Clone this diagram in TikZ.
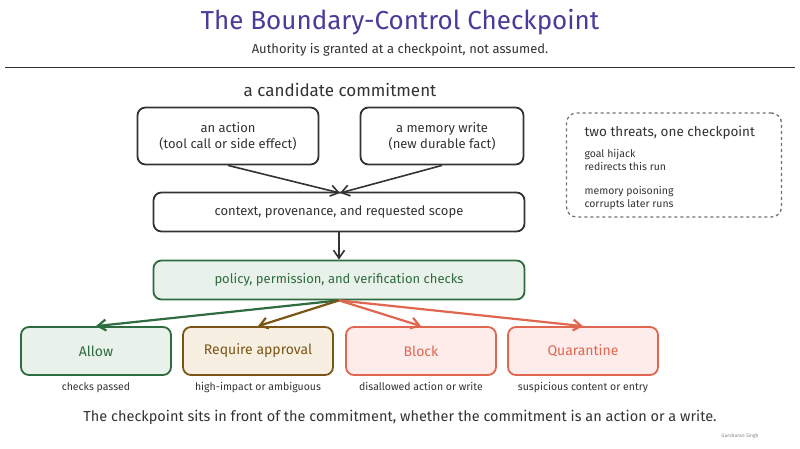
\documentclass[tikz,border=0pt]{standalone}
\usepackage{fontspec}
\setmainfont{Fira Sans}
\usetikzlibrary{positioning,arrows.meta}
\definecolor{ttl}{HTML}{4B3A9A}
\definecolor{ink}{HTML}{333333}
\definecolor{okgreen}{HTML}{2E6B3E}
\definecolor{okfill}{HTML}{E9F1EB}
\definecolor{appbrown}{HTML}{7A5516}
\definecolor{appfill}{HTML}{F7F0E2}
\definecolor{badred}{HTML}{E0664F}
\definecolor{badfill}{HTML}{FDECEA}
\tikzset{
  box/.style={draw=ink,rounded corners=8pt,line width=1.8pt,align=center,font=\fontsize{13}{16}\selectfont,text=ink},
  verdict/.style={box,minimum width=150pt,minimum height=48pt,font=\fontsize{14}{16}\selectfont},
  note/.style={font=\fontsize{10.5}{13}\selectfont,text=ink},
  flow/.style={-{Straight Barb[length=8pt,width=11pt]},line width=1.6pt},
}
\begin{document}
\begin{tikzpicture}[x=1pt,y=-1pt]
    \useasboundingbox (0,0) rectangle (800,448);
    % heading
    \node (title) [text=ttl,font=\fontsize{26}{30}\selectfont] at (400,22) {The Boundary-Control Checkpoint};
    \node (sub) [text=ink,font=\fontsize{13}{15}\selectfont] at (400,50) {Authority is granted at a checkpoint, not assumed.};
    \draw [ink,line width=1pt] (5,67) -- (795,67);
    \node (cand) [text=ink,font=\fontsize{17}{20}\selectfont] at (340,90) {a candidate commitment};
    % inputs
    \node (act) [box,minimum width=181pt,minimum height=57pt] at (228,136) {an action\\(tool call or side effect)};
    \node (mem) [box,minimum width=163pt,minimum height=57pt] at (442,136) {a memory write\\(new durable fact)};
    \node (ctx) [box,minimum width=371pt,minimum height=39pt] at (339,212) {context, provenance, and requested scope};
    \node (pol) [box,draw=okgreen,fill=okfill,text=okgreen,minimum width=371pt,minimum height=39pt] at (339,280) {policy, permission, and verification checks};
    % verdicts
    \node (allow) [verdict,draw=okgreen,fill=okfill,text=okgreen] at (96,351) {Allow};
    \node (appr) [verdict,draw=appbrown,fill=appfill,text=appbrown] at (258,351) {Require approval};
    \node (block) [verdict,draw=badred,fill=badfill,text=badred] at (421,351) {Block};
    \node (quar) [verdict,draw=badred,fill=badfill,text=badred] at (583,351) {Quarantine};
    \node [note,below=3pt of allow] {checks passed};
    \node [note,below=3pt of appr] {high-impact or ambiguous};
    \node [note,below=3pt of block] {disallowed action or write};
    \node [note,below=3pt of quar] {suspicious content or entry};
    % arrows
    \coordinate (meet) at (340,193);
    \draw [flow,ink] (act.south) -- (meet);
    \draw [flow,ink] (mem.south) -- (meet);
    \draw [flow,ink] (ctx.south) -- (pol.north);
    \draw [flow,okgreen,line width=2.2pt] (pol.south) -- (allow.north);
    \draw [flow,appbrown,line width=2.2pt] (pol.south) -- (appr.north);
    \draw [flow,badred,line width=2.2pt] (pol.south) -- (block.north);
    \draw [flow,badred,line width=2.2pt] (pol.south) -- (quar.north);
    % threats
    \node (threat) [draw=ink!70,dashed,rounded corners=10pt,line width=1.3pt,minimum width=215pt,minimum height=104pt] at (674,165) {};
    \node (thead) [anchor=north west,text=ink,font=\fontsize{13.5}{15}\selectfont] at (581,122) {two threats, one checkpoint};
    \node (t1) [note,anchor=north west,align=left] at (581,146) {goal hijack\\redirects this run};
    \node (t2) [note,anchor=north west,align=left] at (581,183) {memory poisoning\\corrupts later runs};
    % footer
    \node (foot) [text=ink,font=\fontsize{14.5}{16}\selectfont] at (400,417) {The checkpoint sits in front of the commitment, whether the commitment is an action or a write.};
    \node (sig) [text=ink!60,font=\fontsize{5}{6}\selectfont] at (740,436) {Gursharan Singh};
\end{tikzpicture}
\end{document}
